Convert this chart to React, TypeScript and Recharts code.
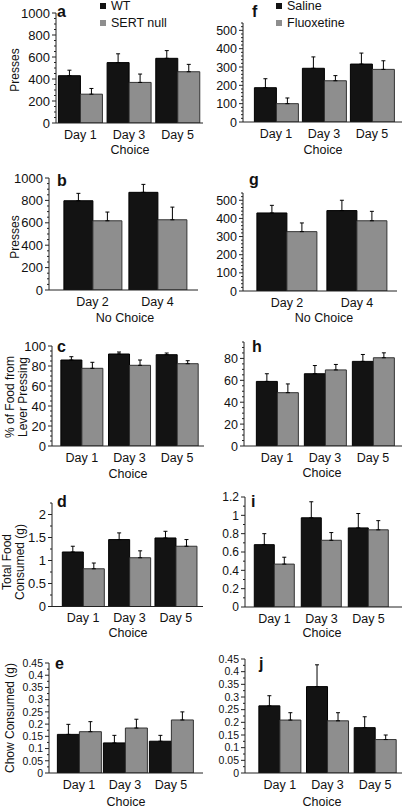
import React from 'react'
import { BarChart, Bar, XAxis, YAxis, ErrorBar, Legend } from 'recharts'

// categories
const DAYS_ODD = ['Day 1', 'Day 3', 'Day 5']
const DAYS_EVEN = ['Day 2', 'Day 4']
const GENOTYPE = ['WT', 'SERT null']
const TREATMENT = ['Saline', 'Fluoxetine']

// a: presses, choice
const aWT = [430, 549, 588]
const aWTErr = [50, 80, 70]
const aKO = [262, 369, 466]
const aKOErr = [52, 76, 67]
// b: presses, no choice
const bWT = [797, 872]
const bWTErr = [66, 71]
const bKO = [618, 627]
const bKOErr = [78, 113]
// c: % food from lever pressing
const cWT = [86, 92, 91.3]
const cWTErr = [3.3, 2, 1.7]
const cKO = [77.7, 80.7, 82.3]
const cKOErr = [6, 5.3, 3]
// d: total food consumed
const dWT = [1.185, 1.455, 1.49]
const dWTErr = [0.125, 0.145, 0.145]
const dKO = [0.82, 1.06, 1.31]
const dKOErr = [0.125, 0.15, 0.145]
// e: chow consumed
const eWT = [0.158, 0.123, 0.13]
const eWTErr = [0.041, 0.031, 0.024]
const eKO = [0.169, 0.184, 0.217]
const eKOErr = [0.041, 0.036, 0.033]
// f: presses, choice
const fSal = [187, 293, 316]
const fSalErr = [49, 62, 60]
const fFlu = [100, 225, 287]
const fFluErr = [31, 28, 47]
// g: presses, no choice
const gSal = [430, 443]
const gSalErr = [42, 57]
const gFlu = [327, 387]
const gFluErr = [48, 52]
// h: % food from lever pressing
const hSal = [59, 66, 77.3]
const hSalErr = [7, 7.5, 6.3]
const hFlu = [48.7, 69.5, 80.6]
const hFluErr = [8, 5, 4.5]
// i: total food consumed
const iSal = [0.68, 0.973, 0.863]
const iSalErr = [0.12, 0.175, 0.157]
const iFlu = [0.468, 0.728, 0.842]
const iFluErr = [0.075, 0.084, 0.1]
// j: chow consumed
const jSal = [0.265, 0.341, 0.179]
const jSalErr = [0.04, 0.086, 0.043]
const jFlu = [0.209, 0.206, 0.132]
const jFluErr = [0.029, 0.032, 0.018]

// tick labels
const TICKS_1000 = [0, 200, 400, 600, 800, 1000]
const TICKS_500 = [0, 100, 200, 300, 400, 500]
const TICKS_100 = [0, 20, 40, 60, 80, 100]
const TICKS_80 = [0, 20, 40, 60, 80]
const TICKS_2 = [0, 0.5, 1, 1.5, 2]
const TICKS_12 = [0, 0.2, 0.4, 0.6, 0.8, 1, 1.2]
const TICKS_045 = [0, 0.05, 0.1, 0.15, 0.2, 0.25, 0.3, 0.35, 0.4, 0.45]

const BLACK = '#131313'
const GRAY = '#8e8e8e'
const AXIS = '#222'
const FONT = '"Liberation Sans", Arial, Helvetica, sans-serif'

const fmt = (v: number) => String(parseFloat(v.toFixed(4)))

const allTicks = (max: number, step: number) => {
  const out: number[] = []
  for (let i = 0; i * step <= max + 1e-9; i++) out.push(parseFloat((i * step).toFixed(4)))
  return out
}

const rows = (cats: string[], s1: number[], e1: number[], s2: number[], e2: number[]) =>
  cats.map((cat, i) => ({ cat, s1: s1[i], s1e: [0, e1[i]], s2: s2[i], s2e: [0, e2[i]] }))

const YTick = ({ x, y, payload, majors, fontSize }: any) => {
  const v = payload.value
  const major = majors.some((m: number) => Math.abs(m - v) < 1e-9)
  const ax = x + 5
  return (
    <g>
      <line x1={ax - (major ? 4 : 2)} x2={ax} y1={y} y2={y} stroke={AXIS} strokeWidth={1} />
      {major && (
        <text x={ax - 6} y={y} dy="0.36em" textAnchor="end" fontSize={fontSize} fill="#111" fontFamily={FONT}>
          {fmt(v)}
        </text>
      )}
    </g>
  )
}

const LegendBox = ({ payload }: any) => (
  <div style={{ fontFamily: FONT, fontSize: 12.5, color: '#111' }}>
    {(payload || []).map((p: any) => (
      <div key={p.value} style={{ display: 'flex', alignItems: 'center', height: 16.5 }}>
        <span style={{ display: 'inline-block', width: 6, height: 6, background: p.color, marginRight: 5 }} />
        {p.value}
      </div>
    ))}
  </div>
)

interface PanelProps {
  letter: string
  x0: number
  axisX: number
  plotRight: number
  padL: number
  padR: number
  yTop: number
  y0: number
  gap: string
  max: number
  majors: number[]
  minor: number
  tickFont: number
  data: any[]
  names: string[]
  letterPos: [number, number]
  yLabel: string[]
  yLabelX: number[]
  yLabelY: number
  xTitle: string
  xTitlePos: [number, number]
  legendPos?: [number, number]
}

function Panel(p: PanelProps) {
  const mt = 6
  const chartTop = p.yTop - mt
  const height = mt + (p.y0 - p.yTop) + 26
  return (
    <>
      <div style={{ position: 'absolute', left: p.x0, top: chartTop }}>
        <BarChart
          width={204}
          height={height}
          data={p.data}
          margin={{ top: mt, right: p.x0 + 204 - p.plotRight, bottom: 0, left: 0 }}
          barCategoryGap={p.gap}
          barGap={0}
        >
          <XAxis
            dataKey="cat"
            height={26}
            padding={{ left: p.padL, right: p.padR }}
            tickLine={false}
            tickSize={0}
            tickMargin={7}
            axisLine={{ stroke: AXIS }}
            tick={{ fontSize: 12.5, fill: '#111', fontFamily: FONT }}
          />
          <YAxis
            width={p.axisX - p.x0}
            domain={[0, p.max]}
            allowDataOverflow
            ticks={allTicks(p.max, p.minor)}
            interval={0}
            tickLine={false}
            tickSize={0}
            tickMargin={5}
            axisLine={{ stroke: AXIS }}
            tick={(tp: any) => <YTick {...tp} majors={p.majors} fontSize={p.tickFont} />}
          />
          {p.legendPos && (
            <Legend
              layout="vertical"
              verticalAlign="middle"
              align="center"
              itemSorter="dataKey"
              content={<LegendBox />}
              wrapperStyle={{ left: p.legendPos[0] - p.x0, top: p.legendPos[1] - chartTop, width: 100, height: 33 }}
            />
          )}
          <Bar dataKey="s1" name={p.names[0]} fill={BLACK} stroke="#000" strokeWidth={1} isAnimationActive={false}>
            <ErrorBar dataKey="s1e" width={2} stroke="#000" strokeWidth={1} direction="y" />
          </Bar>
          <Bar dataKey="s2" name={p.names[1]} fill={GRAY} stroke="#333" strokeWidth={1} isAnimationActive={false}>
            <ErrorBar dataKey="s2e" width={2} stroke="#000" strokeWidth={1} direction="y" />
          </Bar>
        </BarChart>
      </div>
      <span
        style={{
          position: 'absolute',
          left: p.letterPos[0],
          top: p.letterPos[1] - 14,
          fontSize: 16,
          fontWeight: 'bold',
          lineHeight: '16px',
        }}
      >
        {p.letter}
      </span>
      {p.yLabel.map((line, i) => (
        <span
          key={line}
          style={{
            position: 'absolute',
            left: p.yLabelX[i],
            top: p.yLabelY,
            fontSize: 12,
            lineHeight: '13px',
            whiteSpace: 'nowrap',
            transform: 'translate(-50%, -50%) rotate(-90deg)',
          }}
        >
          {line}
        </span>
      ))}
      <span
        style={{
          position: 'absolute',
          left: p.xTitlePos[0],
          top: p.xTitlePos[1],
          fontSize: 12.5,
          lineHeight: '14px',
          whiteSpace: 'nowrap',
          transform: 'translate(-50%, -50%)',
        }}
      >
        {p.xTitle}
      </span>
    </>
  )
}

export default function App() {
  return (
    <div
      style={{
        position: 'absolute',
        left: 0,
        top: 0,
        width: 408,
        height: 810,
        background: '#fff',
        overflow: 'hidden',
        fontFamily: FONT,
        color: '#111',
      }}
    >
      <Panel
        letter="a" x0={0} axisX={56} plotRight={203} padL={0} padR={1} yTop={13} y0={123} gap="5%"
        max={1000} majors={TICKS_1000} minor={50} tickFont={13} data={rows(DAYS_ODD, aWT, aWTErr, aKO, aKOErr)} names={GENOTYPE}
        letterPos={[57, 18]} yLabel={['Presses']} yLabelX={[15]} yLabelY={70} xTitle="Choice" xTitlePos={[130, 150]}
        legendPos={[100, -2]}
      />
      <Panel
        letter="b" x0={0} axisX={49} plotRight={198} padL={11} padR={8} yTop={178} y0={290} gap="6%"
        max={1000} majors={TICKS_1000} minor={50} tickFont={13} data={rows(DAYS_EVEN, bWT, bWTErr, bKO, bKOErr)} names={GENOTYPE}
        letterPos={[57, 187]} yLabel={['Presses']} yLabelX={[15]} yLabelY={237} xTitle="No Choice" xTitlePos={[125, 318]}
      />
      <Panel
        letter="c" x0={0} axisX={52} plotRight={204} padL={6} padR={3} yTop={346} y0={446} gap="6%"
        max={100} majors={TICKS_100} minor={5} tickFont={13} data={rows(DAYS_ODD, cWT, cWTErr, cKO, cKOErr)} names={GENOTYPE}
        letterPos={[57, 353]} yLabel={['% of Food from', 'Lever Pressing']} yLabelX={[10, 23]} yLabelY={397}
        xTitle="Choice" xTitlePos={[128, 474]}
      />
      <Panel
        letter="d" x0={0} axisX={52} plotRight={203} padL={8} padR={4} yTop={502.5} y0={606} gap="5%"
        max={2.25} majors={TICKS_2} minor={0.25} tickFont={13} data={rows(DAYS_ODD, dWT, dWTErr, dKO, dKOErr)} names={GENOTYPE}
        letterPos={[57, 508]} yLabel={['Total Food', 'Consumed (g)']} yLabelX={[7, 20]} yLabelY={562}
        xTitle="Choice" xTitlePos={[128, 633]}
      />
      <Panel
        letter="e" x0={0} axisX={49} plotRight={203} padL={7} padR={9} yTop={663} y0={773} gap="3%"
        max={0.45} majors={TICKS_045} minor={0.025} tickFont={10.5} data={rows(DAYS_ODD, eWT, eWTErr, eKO, eKOErr)} names={GENOTYPE}
        letterPos={[55, 670]} yLabel={['Chow Consumed (g)']} yLabelX={[10]} yLabelY={718}
        xTitle="Choice" xTitlePos={[126, 802]}
      />
      <Panel
        letter="f" x0={204} axisX={243} plotRight={402} padL={9} padR={6} yTop={23} y0={122} gap="5%"
        max={540} majors={TICKS_500} minor={20} tickFont={12.5} data={rows(DAYS_ODD, fSal, fSalErr, fFlu, fFluErr)} names={TREATMENT}
        letterPos={[252, 18]} yLabel={[]} yLabelX={[]} yLabelY={0} xTitle="Choice" xTitlePos={[323, 150]}
        legendPos={[276, -2]}
      />
      <Panel
        letter="g" x0={204} axisX={243} plotRight={397} padL={9} padR={5} yTop={193} y0={291} gap="7%"
        max={540} majors={TICKS_500} minor={20} tickFont={12.5} data={rows(DAYS_EVEN, gSal, gSalErr, gFlu, gFluErr)} names={TREATMENT}
        letterPos={[249, 186]} yLabel={[]} yLabelX={[]} yLabelY={0} xTitle="No Choice" xTitlePos={[324, 318]}
      />
      <Panel
        letter="h" x0={204} axisX={244} plotRight={402} padL={9} padR={5} yTop={342} y0={446} gap="7%"
        max={95} majors={TICKS_80} minor={5} tickFont={12.5} data={rows(DAYS_ODD, hSal, hSalErr, hFlu, hFluErr)} names={TREATMENT}
        letterPos={[252, 353]} yLabel={[]} yLabelX={[]} yLabelY={0} xTitle="Choice" xTitlePos={[322, 473]}
      />
      <Panel
        letter="i" x0={204} axisX={245} plotRight={402} padL={6} padR={10} yTop={497} y0={607} gap="7%"
        max={1.2} majors={TICKS_12} minor={0.1} tickFont={12} data={rows(DAYS_ODD, iSal, iSalErr, iFlu, iFluErr)} names={TREATMENT}
        letterPos={[251, 508]} yLabel={[]} yLabelX={[]} yLabelY={0} xTitle="Choice" xTitlePos={[322, 633]}
      />
      <Panel
        letter="j" x0={204} axisX={245} plotRight={402} padL={11} padR={3} yTop={659} y0={773} gap="6%"
        max={0.45} majors={TICKS_045} minor={0.025} tickFont={10.5} data={rows(DAYS_ODD, jSal, jSalErr, jFlu, jFluErr)} names={TREATMENT}
        letterPos={[259, 670]} yLabel={[]} yLabelX={[]} yLabelY={0} xTitle="Choice" xTitlePos={[322, 802]}
      />
    </div>
  )
}
